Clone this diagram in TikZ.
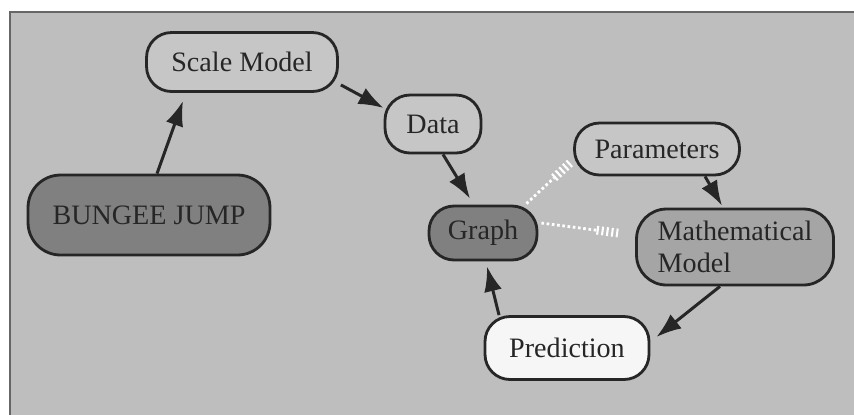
\documentclass[tikz,border=0pt]{standalone}
\usepackage{fontspec}
\setmainfont{Liberation Serif}
\usetikzlibrary{arrows.meta,calc}

\definecolor{panel}{RGB}{190,190,190}
\definecolor{nodelite}{RGB}{198,198,198}
\definecolor{nodemid}{RGB}{165,165,165}
\definecolor{nodedark}{RGB}{128,128,128}
\definecolor{nodepale}{RGB}{246,246,246}

\begin{document}
\begin{tikzpicture}[
        x=0.02cm, y=-0.02cm,
        box/.style={draw=black!85, line width=1.6pt, rounded corners=0.5cm, inner sep=0pt,
          font=\fontsize{16}{18}\selectfont, text=black!85},
        lite/.style={box, fill=nodelite},
        mid/.style={box, fill=nodemid},
        dark/.style={box, fill=nodedark},
        pale/.style={box, fill=nodepale},
        link/.style={->, line width=1.7pt, draw=black!85},
        hatch/.style={white, line width=1.6pt, dash pattern=on 1.5pt off 1.5pt},
        stripes/.style={white, line width=5pt, dash pattern=on 1.2pt off 1.6pt},
        >={Latex[length=0.5cm,width=0.36cm]}
        ]
        \useasboundingbox (0,0) rectangle (854,414);
        \fill[white] (0,0) rectangle (854,414);
        \filldraw[fill=panel, draw=black!60, line width=1.2pt] (10,12) rectangle (870,430);

        % concepts
        \node[lite, minimum width=3.82cm, minimum height=1.18cm] (scale) at (242,62) {Scale Model};
        \node[lite, minimum width=1.92cm, minimum height=1.16cm] (data) at (433,124) {Data};
        \node[dark, rounded corners=0.65cm, minimum width=4.84cm, minimum height=1.6cm] (bungee) at (149,215) {BUNGEE JUMP};
        \node[lite, minimum width=3.3cm, minimum height=1.04cm] (param) at (657,149) {Parameters};
        \node[dark, minimum width=2.16cm, minimum height=1.08cm] (graph) at (483,233) {Graph};
        \node[mid, rounded corners=0.6cm, minimum width=3.94cm, minimum height=1.52cm, align=left] (math) at (735,247) {Mathematical\\Model};
        \node[pale, minimum width=3.28cm, minimum height=1.26cm] (pred) at (567,348) {Prediction};

        % links
        \draw[link] ($(bungee.north)+(8,0)$) -- ($(scale.south)+(-59,8)$);
        \draw[link] ($(scale.south east)+(2,-8)$) -- ($(data.west)+(0,-16)$);
        \draw[link] ($(data.south)+(10,0)$) -- ($(graph.north)+(-13,-6)$);
        \draw[link] ($(param.south)+(48,0)$) -- ($(math.north)+(-13,-2)$);
        \draw[link] ($(math.south)+(-15,0)$) -- ($(pred.east)+(6,-11)$);
        \draw[link] ($(pred.north)+(-68,0)$) -- ($(graph.south)+(4,5)$);

        % hatched relations
        \coordinate (gp1) at ($(graph.north east)+(-12,-1)$);
        \coordinate (gp2) at ($(param.west)+(-2,13)$);
        \draw[hatch] (gp1) -- ($(gp1)!0.62!(gp2)$);
        \draw[stripes] ($(gp1)!0.62!(gp2)$) -- (gp2);
        \coordinate (gm1) at ($(graph.east)+(3,-10)$);
        \coordinate (gm2) at ($(math.west)+(-17,-14)$);
        \draw[hatch] (gm1) -- ($(gm1)!0.72!(gm2)$);
        \draw[stripes] ($(gm1)!0.72!(gm2)$) -- (gm2);
      \end{tikzpicture}
\end{document}
